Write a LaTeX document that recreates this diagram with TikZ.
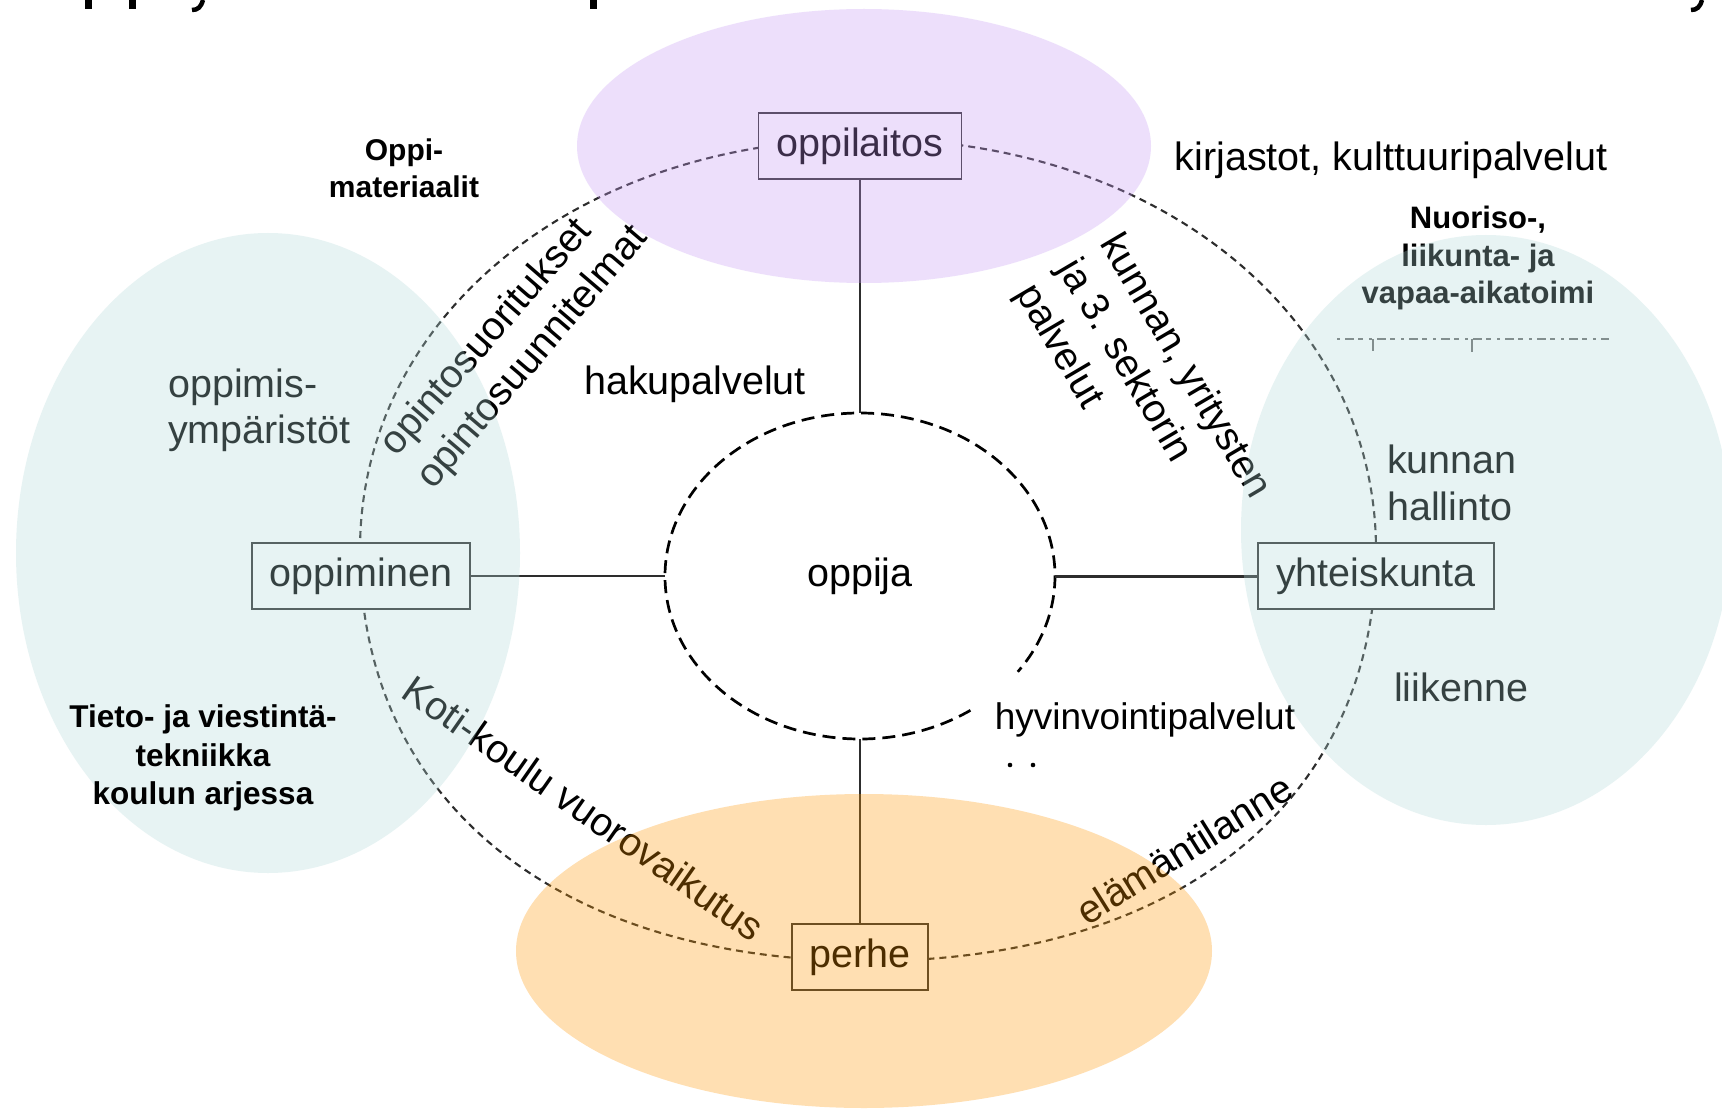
\documentclass[tikz,border=0pt]{standalone}
\usepackage{fontspec}
\setmainfont{Liberation Sans}
\usetikzlibrary{shapes.geometric}
\definecolor{tealov}{RGB}{178,218,218}
\definecolor{purpov}{RGB}{198,152,245}
\definecolor{orangov}{RGB}{255,152,0}
\definecolor{linecol}{RGB}{45,45,45}
\definecolor{boxline}{RGB}{48,48,48}
\definecolor{fraggray}{RGB}{110,110,110}
\begin{document}
\begin{tikzpicture}[x=1pt,y=-1pt,
  box/.style={draw=boxline, fill=white, line width=1.7pt, inner sep=0pt, minimum height=66pt, font=\fontsize{39.5}{46}\selectfont},
  lbl/.style={inner sep=0pt, font=\fontsize{39.5}{46}\selectfont},
  boldlbl/.style={inner sep=0pt, align=center, font=\fontsize{31}{37.5}\selectfont\bfseries},
  conn/.style={draw=linecol, line width=2pt},
  outerdash/.style={draw=linecol, line width=2.1pt, dash pattern=on 7pt off 5pt},
  innerdash/.style={draw=black, line width=2.7pt, dash pattern=on 13pt off 7pt}]
\useasboundingbox (0,0) rectangle (1722,1110);
\fill[white] (0,0) rectangle (1722,1110);

% cut-off title descenders
\draw[line width=7pt] (88,0) -- (88,9);
\draw[line width=7pt] (132,0) -- (132,9);
\draw[line width=7pt] (593,0) -- (593,9);
\draw[line width=4.5pt] (203,0) .. controls (201,7) and (198,10) .. (192,10);
\draw[line width=4.5pt] (1702,0) .. controls (1700,7) and (1697,10) .. (1691,10);

% outer dashed ring
\draw[outerdash] (360,550) .. controls (360,316) and (578,139) .. (868,139)
  .. controls (1158,139) and (1376,316) .. (1376,550)
  .. controls (1376,801) and (1178,961) .. (868,961)
  .. controls (558,961) and (360,801) .. cycle;

% centre
\node[ellipse, minimum width=390pt, minimum height=326pt, inner sep=0pt,
      font=\fontsize{39.5}{46}\selectfont] (oppija) at (860,576) {oppija};
\draw[innerdash] (oppija.center) ++(55.5:195 and 163)
  arc[start angle=55.5, end angle=396, x radius=195, y radius=163];

% boxes
\node[box, minimum width=203pt] (oppilaitos) at (860,146) {oppilaitos};
\node[box, minimum width=218pt] (oppiminen) at (361,576) {oppiminen};
\node[box, minimum width=236pt] (yhteiskunta) at (1376,576) {yhteiskunta};
\node[box, minimum width=136pt] (perhe) at (860,957) {perhe};

% connectors
\draw[conn] (oppilaitos.south) -- (oppija.north);
\draw[conn] (perhe.north) -- (oppija.south);
\draw[conn] (oppiminen.east) -- (oppija.west);
\draw[conn, line width=3pt] (yhteiskunta.west) -- (oppija.east);

% labels
\node[boldlbl, font=\fontsize{30}{37}\selectfont\bfseries] (oppimat) at (404,168) {Oppi-\\materiaalit};
\node[boldlbl] (nuoriso) at (1478,258) {Nuoriso-,\\liikunta- ja\\vapaa-aikatoimi};
\draw[fraggray, line width=1.6pt, dash pattern=on 3pt off 5pt on 9pt off 4pt on 5pt off 6pt] (1337,339) -- (1609,339);
\draw[fraggray, line width=2pt] (1373,339) -- (1373,351) (1472,339) -- (1472,352);

\node[lbl] (kirjastot) at (1391,160) {kirjastot, kulttuuripalvelut};
\node[lbl] (haku) at (695,384) {hakupalvelut};
\node[lbl, font=\fontsize{37}{44}\selectfont] (hyvin) at (1145,720) {hyvinvointipalvelut};
\fill (1010,765) circle[radius=2.3];
\fill (1033,765) circle[radius=2.3];

\node[lbl, align=left, anchor=west] (ympar) at (168,410) {oppimis-\\ympäristöt};
\node[lbl, align=left, anchor=west, font=\fontsize{39.5}{47}\selectfont] (hallinto) at (1387,483) {kunnan\\hallinto};
\node[lbl, anchor=west] (liikenne) at (1394,687) {liikenne};

\node[lbl, rotate=49] (suor) at (487,338) {opintosuoritukset};
\node[lbl, rotate=49.5] (suun) at (533,358) {opintosuunnitelmat};
\node[lbl, rotate=-59.5, align=left, font=\fontsize{39.5}{49}\selectfont] (kunnan) at (1142,392) {kunnan, yritysten\\ja 3. sektorin\\palvelut};
\node[lbl, rotate=-35] (koti) at (584,808) {Koti-koulu vuorovaikutus};
\node[lbl, rotate=32] (elama) at (1184,849) {elämäntilanne};

% translucent coloured areas
\fill[purpov, fill opacity=0.3] (864,146) ellipse[x radius=287, y radius=137];
\fill[tealov, fill opacity=0.3] (268,553) ellipse[x radius=252, y radius=320];
\fill[tealov, fill opacity=0.3] (1486,530) ellipse[x radius=245, y radius=295];
\fill[orangov, fill opacity=0.3] (864,951) ellipse[x radius=348, y radius=157];

% text on top
\node[boldlbl, font=\fontsize{31.5}{38.5}\selectfont\bfseries] (tieto) at (203,758) {Tieto- ja viestintä-\\tekniikka\\koulun arjessa};
\end{tikzpicture}
\end{document}
